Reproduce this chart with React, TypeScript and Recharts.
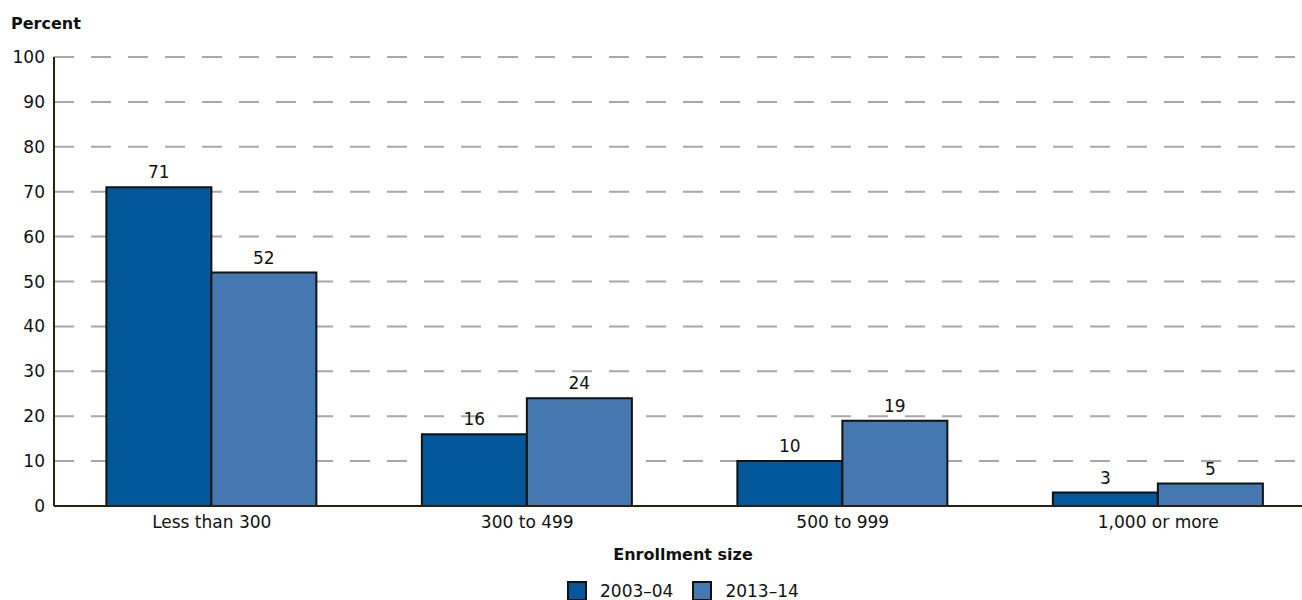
import { BarChart, Bar, XAxis, YAxis, CartesianGrid, LabelList } from "recharts";

const categories = ["Less than 300", "300 to 499", "500 to 999", "1,000 or more"];
const values2003 = [71, 16, 10, 3];
const values2013 = [52, 24, 19, 5];
const yTicks = [0, 10, 20, 30, 40, 50, 60, 70, 80, 90, 100];

const DARK = "#03579b";
const LIGHT = "#4578b1";
const FONT = "'DejaVu Sans', sans-serif";

const data = categories.map((name, i) => ({
  name,
  y2003: values2003[i],
  y2013: values2013[i],
}));

function LegendItem({ color, label }: { color: string; label: string }) {
  return (
    <div style={{ display: "flex", alignItems: "center", gap: 13, height: 20 }}>
      <div style={{ width: 16, height: 16, background: color, border: "2px solid #111" }} />
      <span>{label}</span>
    </div>
  );
}

export default function App() {
  return (
    <div style={{ position: "absolute", left: 0, top: 0, width: 1302, height: 600, overflow: "hidden", fontFamily: FONT, background: "#fff" }}>
      <div style={{ position: "absolute", left: 11, top: 14, fontSize: 16, fontWeight: "bold", color: "#111" }}>Percent</div>
      <BarChart
        width={1316}
        height={600}
        data={data}
        margin={{ top: 57, right: 0, left: 0, bottom: 64 }}
        barCategoryGap="16.6%"
        barGap={0}
      >
        <CartesianGrid horizontal vertical={false} stroke="#a8a8a8" strokeWidth={2} strokeDasharray="20 17" />
        <XAxis
          dataKey="name"
          tickLine={false}
          tickSize={0}
          tickMargin={10}
          axisLine={{ stroke: "#2b2110", strokeWidth: 2 }}
          tick={{ fontSize: 17, fill: "#111", fontFamily: FONT }}
          height={30}
        />
        <YAxis
          domain={[0, 100]}
          ticks={yTicks}
          interval={0}
          width={54}
          tickLine={false}
          tickSize={0}
          tickMargin={9}
          axisLine={{ stroke: "#2b2110", strokeWidth: 2 }}
          tick={{ fontSize: 17, fill: "#111", fontFamily: FONT }}
        />
        <Bar dataKey="y2003" fill={DARK} stroke="#111" strokeWidth={2} isAnimationActive={false}>
          <LabelList dataKey="y2003" position="top" offset={9} style={{ fontSize: 17, fill: "#111", fontFamily: FONT }} />
        </Bar>
        <Bar dataKey="y2013" fill={LIGHT} stroke="#111" strokeWidth={2} isAnimationActive={false}>
          <LabelList dataKey="y2013" position="top" offset={9} style={{ fontSize: 17, fill: "#111", fontFamily: FONT }} />
        </Bar>
      </BarChart>
      <div style={{ position: "absolute", left: 0, width: 1366, top: 545, textAlign: "center", fontSize: 16, fontWeight: "bold", color: "#111" }}>
        Enrollment size
      </div>
      <div style={{ position: "absolute", left: 567, top: 581, display: "flex", gap: 19, fontSize: 17, color: "#111" }}>
        <LegendItem color={DARK} label="2003–04" />
        <LegendItem color={LIGHT} label="2013–14" />
      </div>
    </div>
  );
}
